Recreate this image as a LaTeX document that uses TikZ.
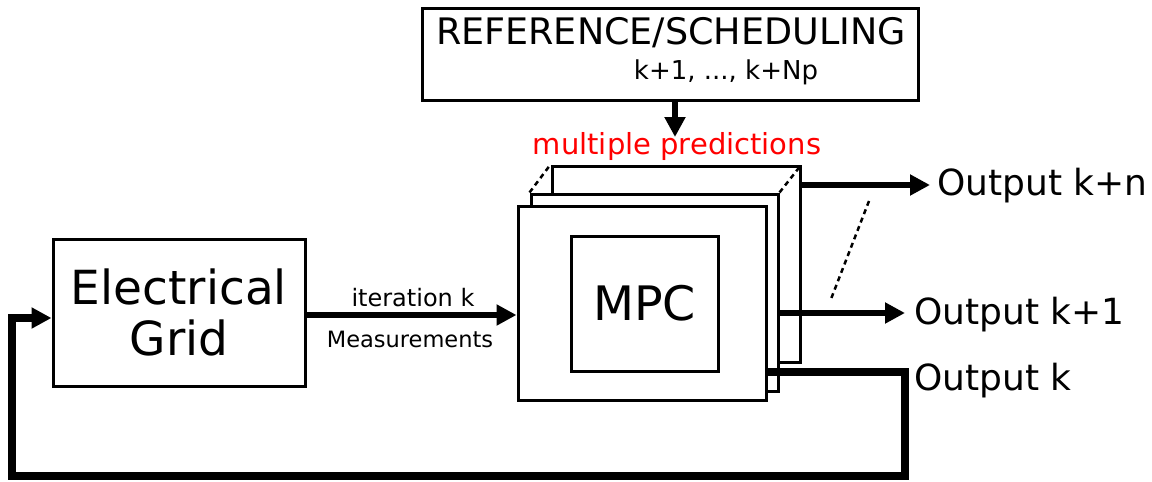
\documentclass[tikz,border=0pt]{standalone}
\usepackage{fontspec}
\setmainfont{DejaVu Sans}
\usetikzlibrary{arrows.meta}
\begin{document}
\begin{tikzpicture}[x=1pt,y=-1pt,
  blk/.style={draw=black,line width=3pt,fill=white,rectangle,inner sep=0pt},
  thick arr/.style={line width=6.5pt,-{Triangle[length=20pt,width=20pt]}},
  fbline/.style={line width=7.5pt},
  dashln/.style={line width=2.5pt,dash pattern=on 5pt off 4pt},
  fs/.style={font=\fontsize{#1}{#1}\selectfont}
]
\useasboundingbox (0,0) rectangle (1152,482);
% reference box
\node[blk,minimum width=496pt,minimum height=92pt] (ref) at (670,54) {};
\node[fs=36.5,inner sep=0pt] (reftxt) at (671,33) {REFERENCE/SCHEDULING};
\node[fs=26,inner sep=0pt] (horiz) at (726,72) {k+1, ..., k+Np};
% MPC stack
\node[blk,minimum width=248pt,minimum height=196pt] (mpc3) at (676,264) {};
\node[blk,minimum width=247pt,minimum height=197pt] (mpc2) at (654.5,292.5) {};
\node[blk,minimum width=248pt,minimum height=194pt] (mpc1) at (642,303) {};
\node[blk,minimum width=147pt,minimum height=135pt,fs=47.5] (mpc) at (644.5,303.5) {MPC};
% dashed stack edges
\draw[dashln] (mpc2.north west) -- (mpc3.north west);
\draw[dashln] (mpc2.north east) -- (mpc3.north east);
% grid
\node[blk,minimum width=252pt,minimum height=147pt,align=center,font=\fontsize{47}{51}\selectfont] (grid) at (179,312.5) {Electrical\\Grid};
% reference arrow
\node[text=red,fs=29,inner sep=0pt] (multi) at (677,146) {multiple predictions};
\coordinate (refarrowend) at (675,137);
\draw[thick arr] (ref.south -| refarrowend) -- (refarrowend);
% measurements arrow
\draw[thick arr] (grid.east |- 0,315) -- (mpc1.west |- 0,315);
\node[fs=24,inner sep=0pt] (iter) at (413,298) {iteration k};
\node[fs=22.5,inner sep=0pt] (meas) at (410,339) {Measurements};
% outputs
\coordinate (okn) at (930,185);
\coordinate (ok1) at (905,313);
\draw[thick arr] (mpc3.east |- okn) -- (okn);
\draw[thick arr] (mpc2.east |- ok1) -- (ok1);
\node[fs=36,anchor=west,inner sep=0pt] (tkn) at (937,186) {Output k+n};
\node[fs=36,anchor=west,inner sep=0pt] (tk1) at (914,315) {Output k+1};
\node[fs=36,anchor=west,inner sep=0pt] (tk) at (914,381) {Output k};
\coordinate (d1) at (869,201);
\coordinate (d2) at (831,299);
\draw[dashln] (d1) -- (d2);
% feedback
\coordinate (fa) at (905,372);
\coordinate (fb) at (905,476);
\coordinate (fc) at (12,476);
\coordinate (fd) at (12,318);
\draw[fbline,line join=miter] (mpc1.east |- fa) -- (fa) -- (fb) -- (fc) -- (fd) -- ([xshift=-18pt]grid.west |- fd);
\draw[line width=6.5pt,-{Triangle[length=20pt,width=20pt]}] ([xshift=-22pt]grid.west |- fd) -- (grid.west |- fd);
\end{tikzpicture}
\end{document}
